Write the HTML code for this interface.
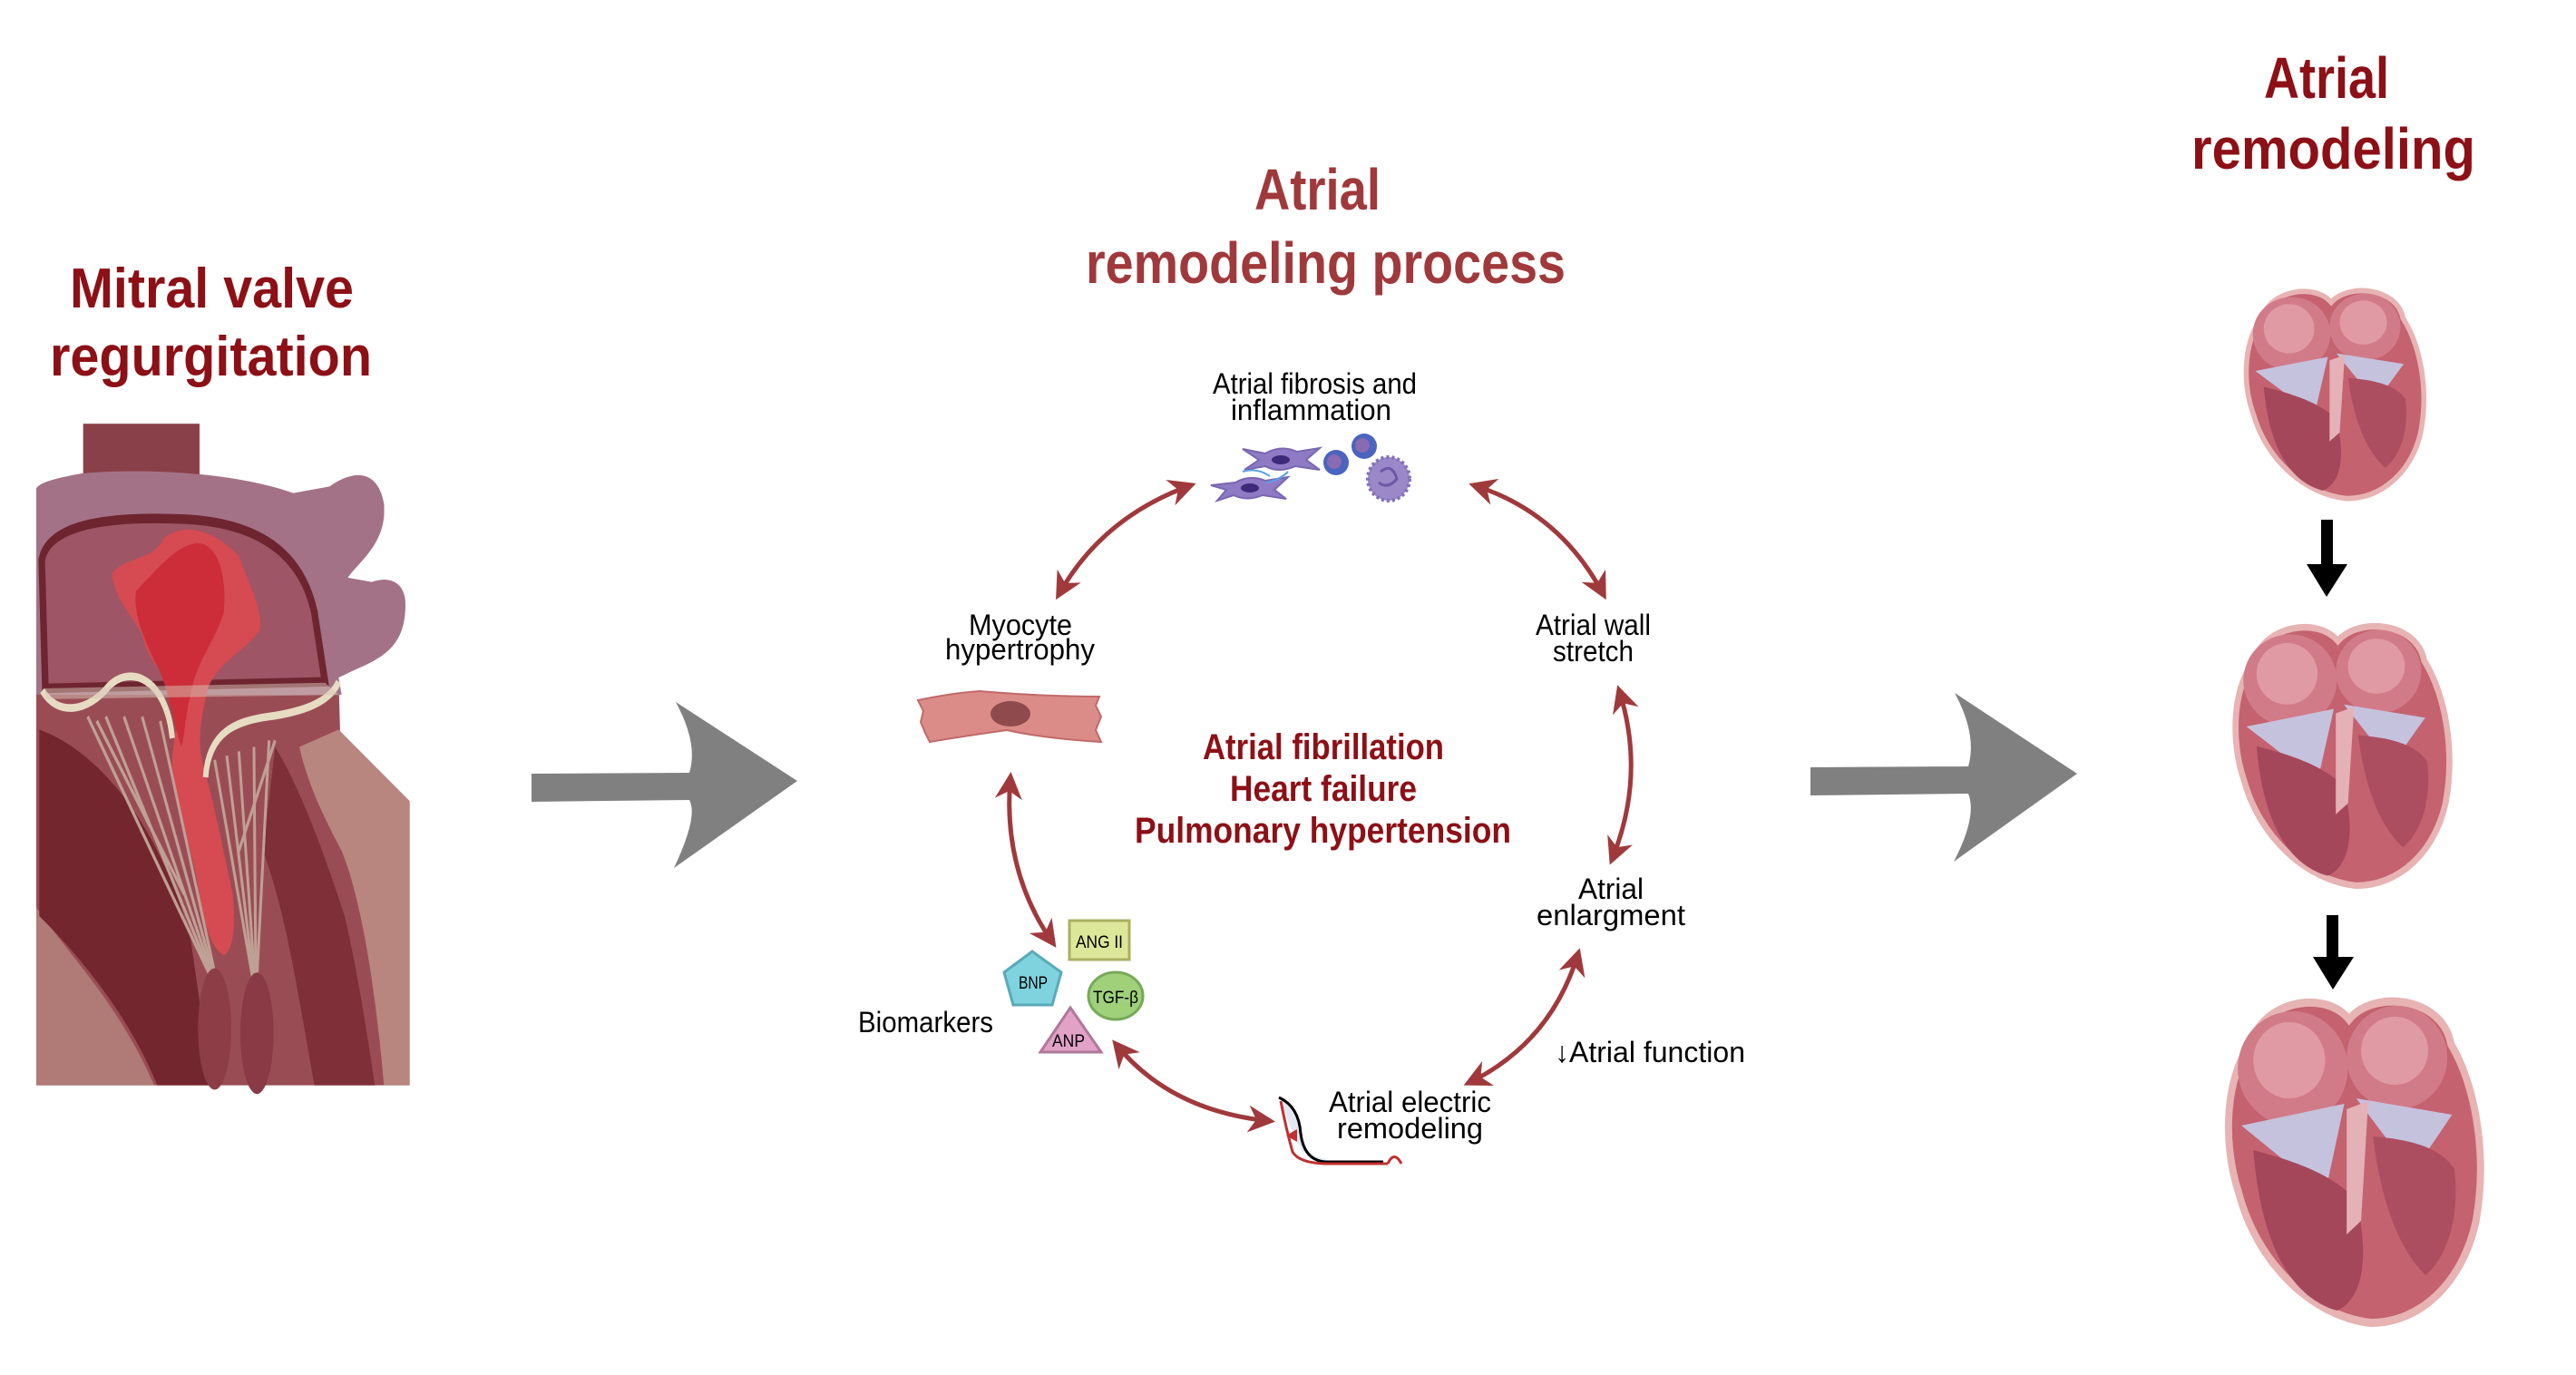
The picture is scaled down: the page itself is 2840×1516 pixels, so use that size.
<!DOCTYPE html>
<html><head><meta charset="utf-8"><style>
html,body{margin:0;padding:0;background:#fff;}
svg{display:block;}
text{font-family:"Liberation Sans",sans-serif;}
.t{font-weight:bold;}
</style></head><body>
<svg width="2840" height="1516" viewBox="0 0 2840 1516" xmlns="http://www.w3.org/2000/svg">
<defs>
<marker id="ah" viewBox="0 0 10 10" refX="8" refY="5" markerWidth="6" markerHeight="6" orient="auto-start-reverse" markerUnits="strokeWidth">
<path d="M0,0 L10,5 L0,10 L3,5 Z" fill="#a0393b"/>
</marker>
<g id="heart">
<path d="M30,40 C40,8 92,0 112,22 C132,0 190,5 197,40 C217,70 228,120 218,170 C207,215 172,245 130,245 C80,240 35,200 20,150 C5,110 10,62 30,40 Z" fill="#c4626f" stroke="#e7b3b3" stroke-width="6"/>
<ellipse cx="65" cy="58" rx="46" ry="42" fill="#d27b88"/>
<ellipse cx="62" cy="52" rx="30" ry="28" fill="#e09aa3"/>
<ellipse cx="152" cy="50" rx="42" ry="38" fill="#d27b88"/>
<ellipse cx="150" cy="45" rx="28" ry="25" fill="#e09aa3"/>
<path d="M22,100 L108,84 L92,150 Z" fill="#c5c2de"/>
<path d="M118,80 L198,92 L165,135 Z" fill="#c5c2de"/>
<path d="M32,118 C62,125 98,135 118,155 C130,200 122,228 102,236 C62,226 38,185 32,118 Z" fill="#a5475a"/>
<path d="M132,108 C160,110 188,115 200,132 C205,170 192,198 176,210 C152,190 138,152 132,108 Z" fill="#ad4e60"/>
<path d="M110,88 L128,82 L122,170 L110,180 Z" fill="#e4b2b6"/>
</g>
</defs>

<!-- Titles -->
<text class="t" x="77" y="339" font-size="62" fill="#8c1016" textLength="313" lengthAdjust="spacingAndGlyphs">Mitral valve</text>
<text class="t" x="55" y="414" font-size="62" fill="#8c1016" textLength="355" lengthAdjust="spacingAndGlyphs">regurgitation</text>
<text class="t" x="1383" y="231" font-size="64" fill="#a0393b" textLength="139" lengthAdjust="spacingAndGlyphs">Atrial</text>
<text class="t" x="1197" y="312" font-size="64" fill="#a0393b" textLength="529" lengthAdjust="spacingAndGlyphs">remodeling process</text>
<text class="t" x="2496" y="108" font-size="64" fill="#8c1016" textLength="138" lengthAdjust="spacingAndGlyphs">Atrial</text>
<text class="t" x="2416" y="186" font-size="64" fill="#8c1016" textLength="313" lengthAdjust="spacingAndGlyphs">remodeling</text>

<!-- Left heart -->
<g transform="translate(30,460) scale(0.3333,0.4783)">
<rect x="185" y="15" width="385" height="130" fill="#8a4048"/>
<path d="M30,165 L30,1540 L1265,1540 L1265,885 L1035,725 L1030,600 L1060,590 C1150,560 1260,540 1250,420 C1240,370 1180,370 1140,380 L1060,370 C1100,330 1190,290 1180,200 C1160,120 1080,120 1000,160 L880,175 C700,130 400,115 180,130 C100,140 40,150 30,165 Z" fill="#9a4c55"/>
<path d="M30,165 L30,640 L1040,640 L1030,600 L1060,590 C1150,560 1260,540 1250,420 C1240,370 1180,370 1140,380 L1060,370 C1100,330 1190,290 1180,200 C1160,120 1080,120 1000,160 L880,175 C700,130 400,115 180,130 C100,140 40,150 30,165 Z" fill="#a47286"/>
<path d="M48,330 C70,240 300,228 520,235 C720,242 900,290 950,450 L985,610 L60,625 Z" fill="#9e5565" stroke="#6e2530" stroke-width="22"/>
<path d="M1030,720 L1265,885 L1265,1540 L1180,1540 C1150,1300 1100,1100 1040,1000 C980,920 930,850 900,760 Z" fill="#b9857f"/>
<path d="M30,1130 C150,1250 300,1350 420,1540 L30,1540 Z" fill="#b07a76"/>
<path d="M40,720 C200,760 420,900 540,1200 L610,1540 L430,1540 C350,1400 200,1260 40,1150 Z" fill="#74262e"/>
<path d="M820,760 C900,850 980,1000 1050,1150 C1100,1300 1130,1450 1150,1540 L950,1540 C900,1350 860,1150 780,1000 Z" fill="#7e2f37"/>
<path d="M280,360 C330,320 420,330 450,280 C520,240 620,260 700,320 C730,380 780,440 770,490 C720,540 640,560 600,620 C570,700 560,760 590,820 C620,900 650,1000 680,1100 C690,1180 680,1230 650,1240 C600,1220 580,1150 560,1060 C530,960 490,900 480,820 C475,760 500,700 510,650 C470,600 400,570 380,500 C340,450 290,420 280,360 Z" fill="#d64a51"/>
<path d="M360,400 C420,360 480,300 560,290 C640,290 660,380 650,450 C620,520 560,560 540,640 C520,700 520,740 510,760 C480,700 470,620 420,560 C380,500 350,450 360,400 Z" fill="#cc2d39"/>
<g stroke="#bfa095" stroke-width="9" fill="none">
<path d="M200,690 L600,1280"/><path d="M260,690 L605,1280"/><path d="M320,690 L610,1280"/><path d="M380,690 L615,1280"/><path d="M440,700 L620,1280"/><path d="M230,700 L520,1100"/>
<path d="M620,790 L745,1290"/><path d="M660,780 L748,1290"/><path d="M700,770 L752,1290"/><path d="M750,760 L756,1290"/><path d="M800,745 L760,1290"/><path d="M820,745 L700,1000"/>
</g>
<path d="M50,630 C100,690 200,680 270,620 C340,570 460,600 480,740" fill="none" stroke="#e6dcc2" stroke-width="18"/>
<path d="M590,830 C600,720 700,700 800,690 C900,680 1000,660 1030,610" fill="none" stroke="#e6dcc2" stroke-width="18"/>
<path d="M60,625 L985,612 L1030,640 L60,650 Z" fill="#d8c6b8" opacity="0.5"/>
<ellipse cx="620" cy="1410" rx="55" ry="140" fill="#8c3d46"/>
<ellipse cx="760" cy="1420" rx="55" ry="140" fill="#8a3a44"/>
</g>

<!-- Gray arrows -->
<path d="M586,853 L760,852 Q770,820 745,774 L879,861 L743,957 Q770,900 760,882 L586,884 Z" fill="#808080"/>
<path d="M1996,846 L2170,845 Q2180,810 2155,764 L2290,853 L2154,950 Q2180,900 2170,875 L1996,877 Z" fill="#808080"/>

<!-- Cycle labels -->
<text x="1337" y="434" font-size="32" fill="#000" textLength="225" lengthAdjust="spacingAndGlyphs">Atrial fibrosis and</text>
<text x="1357" y="463" font-size="32" fill="#000" textLength="177" lengthAdjust="spacingAndGlyphs">inflammation</text>
<text x="1068" y="700" font-size="32" fill="#000" textLength="114" lengthAdjust="spacingAndGlyphs">Myocyte</text>
<text x="1042" y="727" font-size="32" fill="#000" textLength="165" lengthAdjust="spacingAndGlyphs">hypertrophy</text>
<text x="1693" y="700" font-size="32" fill="#000" textLength="127" lengthAdjust="spacingAndGlyphs">Atrial wall</text>
<text x="1712" y="729" font-size="32" fill="#000" textLength="89" lengthAdjust="spacingAndGlyphs">stretch</text>
<text x="1740" y="991" font-size="32" fill="#000" textLength="72" lengthAdjust="spacingAndGlyphs">Atrial</text>
<text x="1694" y="1020" font-size="32" fill="#000" textLength="164" lengthAdjust="spacingAndGlyphs">enlargment</text>
<text x="1714" y="1171" font-size="32" fill="#000" textLength="210" lengthAdjust="spacingAndGlyphs">↓Atrial function</text>
<text x="1465" y="1226" font-size="32" fill="#000" textLength="179" lengthAdjust="spacingAndGlyphs">Atrial electric</text>
<text x="1474" y="1255" font-size="32" fill="#000" textLength="161" lengthAdjust="spacingAndGlyphs">remodeling</text>
<text x="946" y="1138" font-size="32" fill="#000" textLength="149" lengthAdjust="spacingAndGlyphs">Biomarkers</text>
<text class="t" x="1326" y="837" font-size="40" fill="#8c1016" textLength="266" lengthAdjust="spacingAndGlyphs">Atrial fibrillation</text>
<text class="t" x="1356" y="883" font-size="40" fill="#8c1016" textLength="206" lengthAdjust="spacingAndGlyphs">Heart failure</text>
<text class="t" x="1251" y="929" font-size="40" fill="#8c1016" textLength="415" lengthAdjust="spacingAndGlyphs">Pulmonary hypertension</text>

<!-- Cycle arrows -->
<g fill="none" stroke="#a0393b" stroke-width="5" marker-start="url(#ah)" marker-end="url(#ah)">
<path d="M1167,656 Q1215,570 1313,535"/>
<path d="M1625,535 Q1720,565 1768,656"/>
<path d="M1785,761 Q1815,855 1777,948"/>
<path d="M1740,1051 Q1710,1150 1619,1194"/>
<path d="M1230,1151 Q1290,1225 1400,1236"/>
<path d="M1114,857 Q1105,960 1161,1040"/>
</g>

<!-- Fibrosis cells -->
<g>
<path d="M1370,495 L1395,500 Q1412,490 1430,498 L1455,494 L1440,507 L1455,518 L1428,514 Q1410,522 1395,514 L1372,518 L1388,507 Z" fill="#8f7bc4" stroke="#7a66b0" stroke-width="2"/>
<ellipse cx="1412" cy="507" rx="10" ry="5" fill="#3d2a7a"/>
<path d="M1335,535 L1362,532 Q1378,523 1395,530 L1420,526 L1405,540 L1418,550 L1392,546 Q1375,553 1360,546 L1342,552 L1352,540 Z" fill="#8f7bc4" stroke="#7a66b0" stroke-width="2"/>
<ellipse cx="1378" cy="538" rx="10" ry="5" fill="#3d2a7a"/>
<path d="M1370,520 Q1385,515 1400,525 M1420,520 Q1410,530 1395,532" stroke="#5aa0e0" stroke-width="2" fill="none"/>
<circle cx="1473" cy="510" r="14" fill="#4a64c0"/><circle cx="1471" cy="509" r="8" fill="#8a6ab0"/>
<circle cx="1504" cy="492" r="14" fill="#4a64c0"/><circle cx="1502" cy="491" r="8" fill="#8a6ab0"/>
<ellipse cx="1531" cy="528" rx="23" ry="24" fill="#9a88c8" stroke="#8470b8" stroke-width="4" stroke-dasharray="3,3"/>
<path d="M1522,520 Q1535,510 1540,528 Q1530,540 1520,532" fill="none" stroke="#6d58a8" stroke-width="3"/>
</g>

<!-- Myocyte -->
<path d="M1012,772 Q1050,764 1080,762 Q1150,768 1212,768 L1208,778 L1214,790 L1208,805 L1214,818 Q1150,814 1110,805 Q1060,812 1025,818 L1020,808 L1015,796 L1018,784 Z" fill="#dc8c88" stroke="#c06a6a" stroke-width="2"/>
<ellipse cx="1114" cy="787" rx="22" ry="14" fill="#8e4a4c"/>

<!-- Biomarkers -->
<rect x="1179" y="1015" width="66" height="43" fill="#dde79a" stroke="#a9b060" stroke-width="3"/>
<text x="1186" y="1045" font-size="19" fill="#000" textLength="52" lengthAdjust="spacingAndGlyphs">ANG II</text>
<path d="M1138,1049 L1170,1072 L1160,1108 L1117,1108 L1107,1072 Z" fill="#7fd3de" stroke="#5aaab8" stroke-width="3"/>
<text x="1123" y="1090" font-size="19" fill="#000" textLength="32" lengthAdjust="spacingAndGlyphs">BNP</text>
<ellipse cx="1230" cy="1098" rx="30" ry="26" fill="#9fd07a" stroke="#78a858" stroke-width="3"/>
<text x="1205" y="1106" font-size="19" fill="#000" textLength="50" lengthAdjust="spacingAndGlyphs">TGF-β</text>
<path d="M1180,1111 L1214,1160 L1147,1160 Z" fill="#e2a2c8" stroke="#b07898" stroke-width="3"/>
<text x="1160" y="1154" font-size="19" fill="#000" textLength="36" lengthAdjust="spacingAndGlyphs">ANP</text>

<!-- ECG icon -->
<path d="M1412,1212 Q1432,1222 1434,1250 Q1440,1278 1458,1281 L1470,1281 L1436,1270 Q1420,1240 1412,1212 Z" fill="#e4e8f4"/>
<path d="M1410,1210 Q1432,1220 1434,1250 Q1438,1280 1462,1281 L1525,1281" fill="none" stroke="#000" stroke-width="3"/>
<path d="M1412,1214 Q1418,1245 1425,1270 Q1432,1282 1460,1283 L1530,1283" fill="none" stroke="#c03030" stroke-width="3"/>
<path d="M1530,1283 Q1537,1268 1545,1283" fill="none" stroke="#c03030" stroke-width="3"/>
<path d="M1418,1252 L1430,1245 L1430,1259 Z" fill="#c03030"/>

<!-- Right hearts -->
<use href="#heart" transform="translate(2466,312) scale(0.93,0.97)"/>
<use href="#heart" transform="translate(2452,680) scale(1.12,1.21)"/>
<use href="#heart" transform="translate(2442,1091) scale(1.32,1.5)"/>
<path d="M2559,573 L2572,573 L2572,622 L2588,622 L2565,658 L2543,622 L2559,622 Z" fill="#000"/>
<path d="M2565,1009 L2578,1009 L2578,1055 L2595,1055 L2572,1091 L2550,1055 L2565,1055 Z" fill="#000"/>
</svg>
</body></html>
